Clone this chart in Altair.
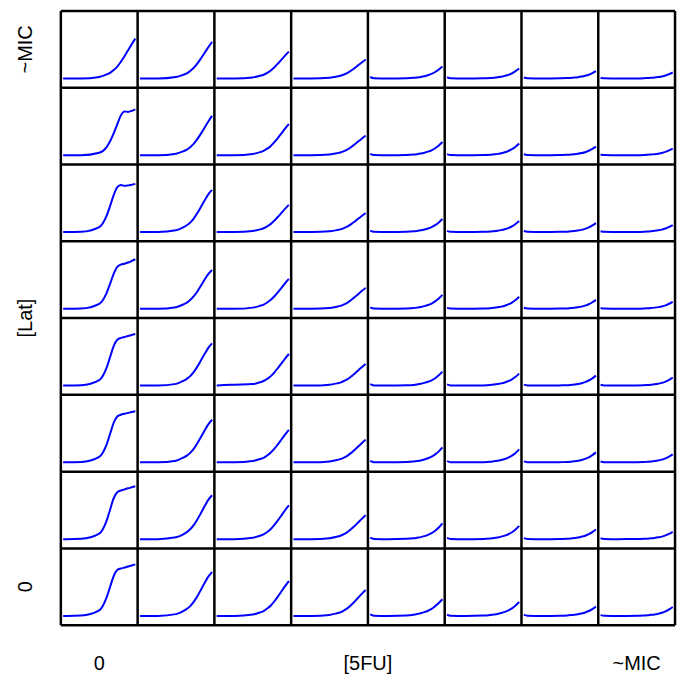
import altair as alt
import pandas as pd

# sample positions along each panel's time axis (fraction of panel width)
t_pts = [0, 0.05, 0.25, 0.5, 0.6, 0.65, 0.7, 0.75, 0.8, 0.85, 0.9, 0.95, 1.0]

# growth readings (height above baseline, panel units of 77) ; rows top (Lat ~MIC) -> bottom (Lat 0),
# columns left (5FU 0) -> right (5FU ~MIC)
row0 = [
    [0, 0, 0, 1.6, 4, 5.6, 8.4, 12, 16.8, 22.4, 28.4, 34.4, 40],
    [0, 0, 0, 1.5, 3.7, 5.1, 7.7, 11, 15.4, 20.6, 26.1, 31.6, 36.7],
    [0, 0, 0, 1.1, 2.7, 3.8, 5.7, 8.1, 11.3, 15.1, 19.2, 23.2, 27],
    [0, 0, 0, 0.8, 1.9, 2.7, 4, 5.7, 8, 10.6, 13.5, 16.3, 19],
    [1.5, 0.2, 0, 0.3, 0.7, 1.1, 1.6, 2.3, 3.3, 4.6, 6.5, 9, 12],
    [1.2, 0.2, 0, 0.2, 0.5, 0.8, 1.2, 1.8, 2.6, 3.6, 5.2, 7.4, 10],
    [1, 0.2, 0, 0.2, 0.4, 0.6, 0.9, 1.3, 1.9, 2.7, 3.8, 5.4, 7.3],
    [0.8, 0.2, 0, 0.1, 0.3, 0.5, 0.7, 1, 1.5, 2.1, 3, 4.4, 6],
]
row1 = [
    [0, 0, 0, 2.5, 8, 14, 22, 31, 40, 44, 43.5, 44.5, 46],
    [0, 0, 0, 1.6, 4, 5.6, 8.3, 11.9, 16.7, 22.2, 28.2, 34.1, 39.7],
    [0, 0, 0, 1.3, 3.1, 4.4, 6.6, 9.4, 13.1, 17.5, 22.2, 26.9, 31.3],
    [0, 0, 0, 0.8, 2, 2.8, 4.1, 5.9, 8.3, 11, 14, 16.9, 19.7],
    [1.5, 0.2, 0, 0.3, 0.7, 1.1, 1.7, 2.5, 3.6, 5, 7, 9.8, 13.3],
    [1.2, 0.2, 0, 0.2, 0.6, 1, 1.4, 2.1, 3, 4.3, 6.1, 8.6, 11.7],
    [1, 0.2, 0, 0.2, 0.4, 0.7, 1, 1.5, 2.2, 3.1, 4.5, 6.4, 8.7],
    [0.8, 0.2, 0, 0.1, 0.3, 0.5, 0.8, 1.1, 1.6, 2.3, 3.4, 4.9, 6.7],
]
row2 = [
    [0, 0, 0.3, 5, 16, 26, 37, 45, 47.3, 46.3, 46.8, 47.5, 48.3],
    [0, 0, 0, 1.7, 4.7, 6.8, 9.7, 14, 19.5, 25.8, 32.1, 38.1, 42.3],
    [0, 0, 0, 1.1, 2.7, 3.8, 5.7, 8.2, 11.5, 15.3, 19.4, 23.5, 27.3],
    [0, 0, 0, 0.8, 1.9, 2.7, 4, 5.7, 8, 10.6, 13.5, 16.3, 19],
    [1.5, 0.2, 0, 0.3, 0.7, 1.1, 1.7, 2.5, 3.5, 4.9, 6.9, 9.6, 13],
    [1.2, 0.2, 0, 0.2, 0.5, 0.9, 1.3, 1.9, 2.8, 4, 5.7, 8, 11],
    [1, 0.2, 0, 0.2, 0.4, 0.7, 1, 1.5, 2.2, 3.2, 4.6, 6.6, 9],
    [0.8, 0.2, 0, 0.1, 0.3, 0.5, 0.8, 1.2, 1.7, 2.4, 3.5, 5.1, 7],
]
row3 = [
    [0, 0, 0.3, 5, 15.5, 25, 35, 42, 44.3, 45.2, 46.4, 48, 49.7],
    [0, 0, 0, 1.6, 4.3, 6.2, 9, 12.9, 17.9, 23.8, 29.6, 35.1, 39],
    [0, 0, 0, 1.2, 3, 4.2, 6.3, 9, 12.6, 16.8, 21.3, 25.8, 30],
    [0, 0, 0, 0.8, 2.1, 2.9, 4.4, 6.3, 8.8, 11.8, 14.9, 18.1, 21],
    [1.5, 0.2, 0, 0.3, 0.7, 1.2, 1.8, 2.7, 3.8, 5.3, 7.4, 10.3, 14],
    [1.2, 0.2, 0, 0.2, 0.6, 1, 1.5, 2.2, 3.1, 4.4, 6.3, 8.8, 12],
    [1, 0.2, 0, 0.2, 0.4, 0.7, 1, 1.5, 2.2, 3.2, 4.6, 6.6, 9],
    [0.8, 0.2, 0, 0.1, 0.3, 0.5, 0.8, 1.2, 1.7, 2.4, 3.5, 5.1, 7],
]
row4 = [
    [0, 0, 0.3, 5.5, 17.5, 28.5, 39.5, 46, 47.8, 48.8, 49.8, 50.7, 51.7],
    [0, 0, 0, 1.7, 4.7, 6.8, 9.7, 14, 19.5, 25.8, 32.1, 38.1, 42.3],
    [0, 0.3, 0.9, 1.5, 3.4, 4.6, 6.7, 9.5, 13.3, 17.8, 22.5, 27.3, 31.7],
    [0, 0, 0, 0.9, 2.2, 3, 4.6, 6.5, 9.1, 12.2, 15.4, 18.7, 21.7],
    [1.5, 0.2, 0, 0.3, 0.7, 1.2, 1.8, 2.7, 3.8, 5.3, 7.4, 10.3, 14],
    [1.2, 0.2, 0, 0.2, 0.6, 1, 1.5, 2.2, 3.1, 4.4, 6.3, 8.8, 12],
    [1, 0.2, 0, 0.2, 0.4, 0.7, 1.1, 1.6, 2.4, 3.5, 5.1, 7.3, 10],
    [0.8, 0.2, 0, 0.1, 0.3, 0.6, 0.9, 1.3, 1.9, 2.7, 4, 5.8, 8],
]
row5 = [
    [0, 0, 0.3, 5.5, 17.5, 28.5, 39.5, 46, 47.8, 48.7, 49.6, 50.5, 51.3],
    [0, 0, 0, 1.7, 4.7, 6.8, 9.8, 14.1, 19.6, 26, 32.5, 38.4, 42.7],
    [0, 0, 0, 1.3, 3.3, 4.6, 6.9, 9.8, 13.7, 18.3, 23.2, 28.1, 32.7],
    [0, 0, 0, 0.9, 2.3, 3.2, 4.8, 6.8, 9.5, 12.7, 16.1, 19.5, 22.7],
    [1.5, 0.2, 0, 0.3, 0.8, 1.3, 1.9, 2.9, 4.1, 5.7, 8, 11, 15],
    [1.2, 0.2, 0, 0.2, 0.6, 1.1, 1.6, 2.4, 3.4, 4.8, 6.8, 9.5, 13],
    [1, 0.2, 0, 0.2, 0.4, 0.7, 1.1, 1.6, 2.4, 3.5, 5.1, 7.3, 10],
    [0.8, 0.2, 0, 0.1, 0.3, 0.6, 0.9, 1.3, 1.9, 2.7, 4, 5.8, 8],
]
row6 = [
    [0, 0, 0.3, 5.5, 18, 29.5, 41, 47, 48.8, 49.9, 51, 52, 53],
    [0, 0, 0, 1.8, 4.8, 7, 10.1, 14.5, 20.2, 26.8, 33.4, 39.6, 44],
    [0, 0, 0, 1.4, 3.4, 4.8, 7.1, 10.2, 14.3, 19, 24.1, 29.2, 34],
    [0, 0, 0, 1, 2.4, 3.4, 5, 7.2, 10.1, 13.4, 17, 20.6, 24],
    [1.5, 0.2, 0, 0.3, 0.8, 1.4, 2, 3, 4.3, 6, 8.4, 11.6, 15.7],
    [1.2, 0.2, 0, 0.2, 0.7, 1.1, 1.7, 2.5, 3.5, 4.9, 6.9, 9.7, 13.3],
    [1, 0.2, 0, 0.2, 0.4, 0.7, 1.1, 1.6, 2.4, 3.4, 5, 7.1, 9.7],
    [0.8, 0.2, 0, 0.1, 0.3, 0.5, 0.8, 1.2, 1.8, 2.5, 3.7, 5.3, 7.3],
]
row7 = [
    [0, 0, 0.3, 5.5, 18, 29, 40, 46, 47.5, 48.5, 49.5, 50.6, 51.7],
    [0, 0, 0, 1.8, 4.8, 7, 10.1, 14.5, 20.2, 26.8, 33.4, 39.6, 44],
    [0, 0, 0, 1.4, 3.5, 4.9, 7.4, 10.5, 14.7, 19.6, 24.9, 30.1, 35],
    [0, 0, 0, 1, 2.6, 3.6, 5.5, 7.8, 10.9, 14.6, 18.5, 22.4, 26],
    [1.5, 0.2, 0, 0.4, 1.2, 1.9, 2.7, 3.8, 5.2, 7, 9.8, 13, 16.7],
    [1.2, 0.2, 0, 0.3, 0.9, 1.4, 2, 2.9, 4, 5.5, 7.6, 10.4, 14],
    [1, 0.2, 0, 0.2, 0.5, 0.8, 1.2, 1.7, 2.4, 3.4, 4.9, 6.9, 9.3],
    [0.8, 0.2, 0, 0.2, 0.4, 0.7, 1.1, 1.5, 2.2, 3.1, 4.5, 6.5, 9],
]
rows = [row0, row1, row2, row3, row4, row5, row6, row7]

axis_pos = [0.5, 4, 7.5]
fu_labels = ["0", "[5FU]", "~MIC"]
lat_labels = ["0", "[Lat]", "~MIC"]
grid_pos = list(range(9))

recs = []
for r, row in enumerate(rows):
    for c, vals in enumerate(row):
        for t, h in zip(t_pts, vals):
            recs.append({
                "panel": f"{r}-{c}",
                "t": t,
                "gx": c + 0.03 + 0.94 * t,
                "gy": (7 - r) + (9.3 + h) / 77.0,
            })
df = pd.DataFrame(recs)

xs = alt.Scale(domain=[0, 8], nice=False, zero=False)
ys = alt.Scale(domain=[0, 8], nice=False, zero=False)

lines = alt.Chart(df).mark_line(color="#0000ff", strokeWidth=2, interpolate="monotone").encode(
    x=alt.X("gx:Q", scale=xs, axis=None),
    y=alt.Y("gy:Q", scale=ys, axis=None),
    detail="panel:N",
    order="t:Q",
)

grid_df = pd.DataFrame({"g": grid_pos})
vrules = alt.Chart(grid_df).mark_rule(color="black", strokeWidth=2.5).encode(
    x=alt.X("g:Q", scale=xs, axis=None))
hrules = alt.Chart(grid_df).mark_rule(color="black", strokeWidth=2.5).encode(
    y=alt.Y("g:Q", scale=ys, axis=None))

bottom_df = pd.DataFrame({"pos": axis_pos, "lab": fu_labels})
left_df = pd.DataFrame({"pos": axis_pos, "lab": lat_labels})

bottom_text = alt.Chart(bottom_df).mark_text(
    font="Liberation Sans", fontSize=20, color="black", align="center",
    baseline="middle").encode(
    x=alt.X("pos:Q", scale=xs, axis=None),
    y=alt.value(655),
    text="lab:N")

left_text = alt.Chart(left_df).mark_text(
    font="Liberation Sans", fontSize=20, color="black", align="center",
    baseline="middle", angle=270).encode(
    y=alt.Y("pos:Q", scale=ys, axis=None),
    x=alt.value(-35),
    text="lab:N")

chart = alt.layer(lines, vrules, hrules, bottom_text, left_text).properties(
    width=616, height=616,
    autosize=alt.AutoSizeParams(type="none"),
    padding={"left": 53, "top": 2, "right": 10, "bottom": 60},
    background="white",
).configure_view(stroke=None)

chart.save("out.html", embed_options={"renderer": "svg", "actions": False})
